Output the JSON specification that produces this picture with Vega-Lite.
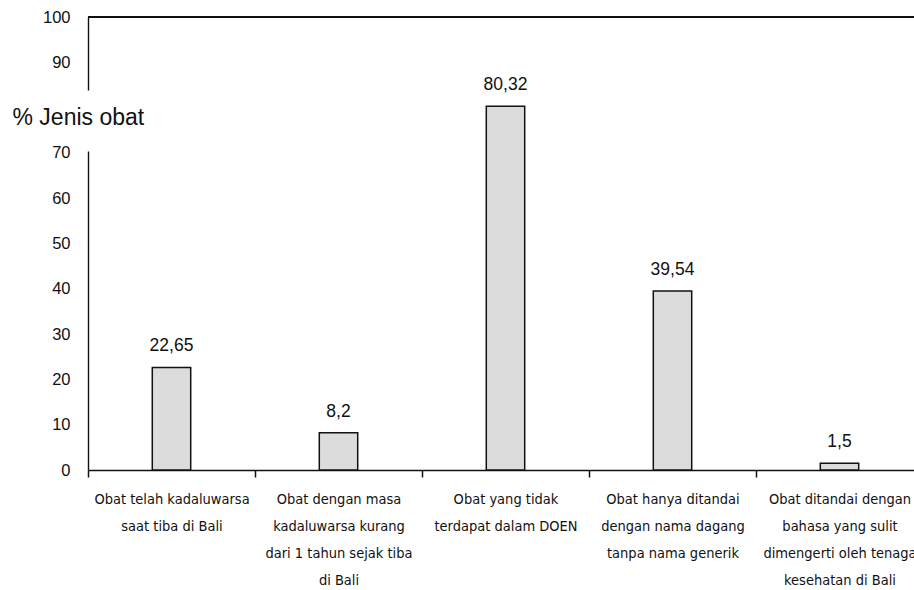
{
  "$schema": "https://vega.github.io/schema/vega-lite/v6.json",
  "autosize": {"type": "none"},
  "width": 826,
  "height": 453,
  "padding": {"left": 88, "top": 17, "right": 0, "bottom": 120},
  "background": "white",
  "config": {
    "view": {"stroke": null},
    "font": "Liberation Sans"
  },
  "data": {
    "values": [
      {"kategori": "Obat telah kadaluwarsa|saat tiba di Bali", "persen": 22.65, "label": "22,65"},
      {"kategori": "Obat dengan masa|kadaluwarsa kurang|dari 1 tahun sejak tiba|di Bali", "persen": 8.2, "label": "8,2"},
      {"kategori": "Obat yang tidak|terdapat dalam DOEN", "persen": 80.32, "label": "80,32"},
      {"kategori": "Obat hanya ditandai|dengan nama dagang|tanpa nama generik", "persen": 39.54, "label": "39,54"},
      {"kategori": "Obat ditandai dengan|bahasa yang sulit|dimengerti oleh tenaga|kesehatan di Bali", "persen": 1.5, "label": "1,5"}
    ]
  },
  "encoding": {
    "x": {
      "field": "kategori",
      "type": "nominal",
      "sort": null,
      "scale": {"range": [0, 835], "paddingInner": 0, "paddingOuter": 0},
      "axis": {
        "title": null,
        "labelAngle": 0,
        "labelExpr": "split(datum.label, '|')",
        "labelFont": "DejaVu Sans Condensed, Liberation Sans",
        "labelFontSize": 14.5,
        "labelLineHeight": 27,
        "labelColor": "#111",
        "labelPadding": 15,
        "labelLimit": 0,
        "tickBand": "extent",
        "tickSize": 7,
        "tickWidth": 1.5,
        "tickColor": "#111",
        "domainColor": "#111",
        "domainWidth": 1.5,
        "grid": false
      }
    },
    "y": {
      "field": "persen",
      "type": "quantitative",
      "scale": {"domain": [0, 100], "nice": false},
      "axis": {
        "values": [0, 10, 20, 30, 40, 50, 60, 70, 90, 100],
        "title": "% Jenis obat",
        "titleAngle": 0,
        "titleX": -76,
        "titleY": 100,
        "titleAlign": "left",
        "titleBaseline": "middle",
        "titleFontSize": 23,
        "titleFontWeight": "normal",
        "titleColor": "#111",
        "titleFont": "Liberation Sans",
        "labelFontSize": 16.5,
        "labelColor": "#111",
        "labelPadding": 18,
        "ticks": false,
        "grid": false,
        "domainColor": "#111",
        "domainWidth": 1.4,
        "domainDash": [319, 61, 300]
      }
    }
  },
  "layer": [
    {
      "mark": {"type": "rule", "color": "#111", "strokeWidth": 1.5},
      "encoding": {"x": null, "y": {"datum": 100}}
    },
    {
      "mark": {"type": "bar", "width": {"band": 0.23}, "fill": "#dcdcdc", "stroke": "#111", "strokeWidth": 1.5}
    },
    {
      "mark": {"type": "text", "baseline": "alphabetic", "dy": -16, "fontSize": 17.5, "color": "#111", "font": "Liberation Sans"},
      "encoding": {"text": {"field": "label"}}
    }
  ]
}
